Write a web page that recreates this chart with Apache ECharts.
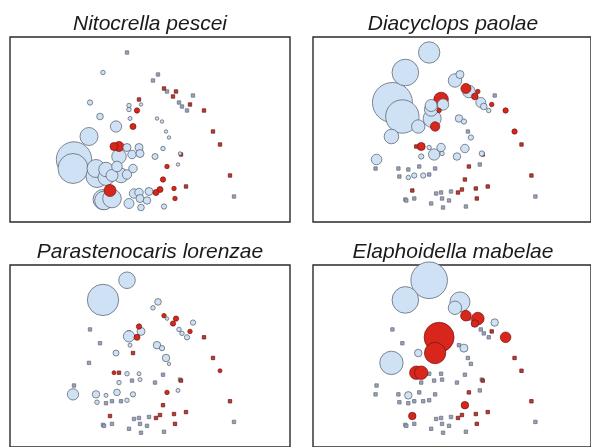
<!DOCTYPE html>
<html><head><meta charset="utf-8">
<script src="https://cdn.jsdelivr.net/npm/echarts@6/dist/echarts.min.js"></script>
<style>html,body{margin:0;padding:0;background:#fff}#c{width:591px;height:447px}</style>
</head><body><div id="c"></div>
<script>
// Ordination scores of the sampling sites (shared by all four panels)
const siteX = [
  -0.23,-0.47,-0.60,-0.50,-0.34,-0.61,-0.20,-0.21,-0.21,-0.09,
   0.08, 0.03, 0.17, 0.29, 0.32, 0.37, 0.43, 0.07, 0.12, 0.16,
   0.19, 0.13, 0.05, 0.30, 0.28,-0.11,-0.18,-0.10,-0.23,-0.31,
  -0.76,-0.77,-0.54,-0.44,-0.33,-0.17,-0.53,-0.44,-0.38,-0.29,
  -0.23,-0.16,-0.11,-0.01,-0.10,-0.03,-0.47,-0.46,-0.38,-0.21,
  -0.09, 0.14, 0.84,
  -0.11,-0.13,-0.17, 0.14, 0.26, 0.23, 0.40, 0.54, 0.63, 0.70,
  -0.36,-0.31, 0.17, 0.13, 0.36, 0.24, 0.10, 0.06,-0.40, 0.25,
   0.80, 0.31
];
const siteY = [
   0.77, 0.57, 0.27, 0.13, 0.03,-0.07, 0.11, 0.20, 0.24, 0.25,
   0.55, 0.49, 0.38, 0.27, 0.23, 0.19, 0.34, 0.11, 0.08,-0.02,
  -0.08,-0.19,-0.27,-0.24,-0.35,-0.18,-0.25,-0.24,-0.18,-0.27,
  -0.30,-0.39,-0.39,-0.40,-0.37,-0.39,-0.47,-0.48,-0.46,-0.46,
  -0.45,-0.64,-0.63,-0.62,-0.69,-0.71,-0.70,-0.71,-0.69,-0.74,
  -0.78,-0.77,-0.67,
   0.30, 0.19, 0.03, 0.41, 0.38, 0.33, 0.25, 0.19,-0.02,-0.15,
  -0.17,-0.17,-0.37,-0.50,-0.57,-0.59,-0.60,-0.63,-0.61,-0.69,
  -0.46,-0.25
];
const siteGroup = [
  'A','A','A','A','A','A','A','A','A','A',
  'A','A','A','A','A','A','A','A','A','A',
  'A','A','A','A','A','A','A','A','A','A',
  'A','A','A','A','A','A','A','A','A','A',
  'A','A','A','A','A','A','A','A','A','A',
  'A','A','A',
  'B','B','B','B','B','B','B','B','B','B',
  'B','B','B','B','B','B','B','B','B','B',
  'B','B'
];
const species = ['Nitocrella pescei','Diacyclops paolae','Parastenocaris lorenzae','Elaphoidella mabelae'];
// Abundances per site
const abundNitocrella = [
  0,5,7,11,32,81,4,5,5,3, 0,0,0,0,0,0,0,3,3,3, 3,5,9,3,3,16,18,16,16,53,
  313,225,81,53,28,18,121,64,36,53, 22,22,18,16,16,14,100,87,87,25, 11,7,0,
  0,7,9,0,0,0,0,0,0,0, 16,25,5,7,0,5,9,9,36,5, 0,0
];
const abundDiacyclops = [
  114,177,400,279,45,53,81,45,36,32, 16,45,40,25,11,5,0,14,7,0, 7,18,14,7,0,18,32,5,5,7,
  28,0,0,0,0,0,0,5,7,7, 0,0,0,0,0,0,0,0,0,0, 0,0,0,
  53,5,22,25,5,11,5,7,7,0, 0,16,0,0,0,0,0,0,0,0, 0,0
];
const abundParastenocaris = [
  69,246,0,0,9,0,4,32,0,16, 11,5,3,5,5,7,7,14,7,14, 3,0,0,0,4,4,0,4,5,5,
  0,32,14,4,11,7,5,0,0,0, 5,0,0,0,0,0,0,0,0,0, 0,0,0,
  7,9,0,5,7,7,5,0,0,4, 4,0,5,0,0,0,0,0,0,0, 0,0
];
const abundElaphoidella = [
  335,177,0,0,14,137,0,0,0,0, 100,45,0,0,0,0,14,0,16,0, 0,0,0,0,0,0,0,0,0,0,
  0,0,0,14,0,0,0,0,0,0, 0,0,0,0,0,0,0,0,0,0, 0,0,0,
  0,225,114,28,40,14,0,28,0,0, 45,45,0,14,0,0,0,0,14,0, 0,0
];
const abund = [abundNitocrella, abundDiacyclops, abundParastenocaris, abundElaphoidella];

const W = 280, H = 185;
const panels = [{left:10, top:37},{left:313, top:37},{left:10, top:265},{left:313, top:265}];
const style = {
  A: {fill:'#cfe1f5', stroke:'#4f5966', xFill:'#9aa3b6', xStroke:'#6c7487'},
  B: {fill:'#d9261c', stroke:'#6e1610', xFill:'#b0423c', xStroke:'#7a1a15'}
};
const grid=[], xAxis=[], yAxis=[], series=[], title=[];
panels.forEach((p,i)=>{
  grid.push({left:p.left, top:p.top, width:W, height:H, show:true, borderColor:'#2a2a2a', borderWidth:1.4, backgroundColor:'#fff'});
  xAxis.push({gridIndex:i, type:'value', min:-1.40, max:1.40, show:false});
  yAxis.push({gridIndex:i, type:'value', min:-0.925, max:0.925, show:false});
  title.push({text:species[i], left:p.left+W/2, top:p.top-23, textAlign:'center', padding:0,
    textStyle:{fontFamily:'Liberation Sans, Arial, sans-serif', fontStyle:'italic', fontWeight:'normal', fontSize:21, color:'#1a1a1a'}});
  const absent=[], present=[];
  siteX.forEach((x,k)=>{
    const g = style[siteGroup[k]];
    const a = abund[i][k];
    if (a === 0) {
      absent.push({value:[x, siteY[k]], itemStyle:{color:g.xFill, borderColor:g.xStroke, borderWidth:0.8, opacity:1}});
    } else {
      present.push({value:[x, siteY[k], a], itemStyle:{color:g.fill, borderColor:g.stroke, borderWidth:0.7, opacity:1}});
    }
  });
  present.sort((u,v)=>v.value[2]-u.value[2]);
  series.push({type:'scatter', xAxisIndex:i, yAxisIndex:i, symbol:'rect', symbolSize:3.4, data:absent, silent:true, z:2,
    itemStyle:{opacity:1}});
  series.push({type:'scatter', xAxisIndex:i, yAxisIndex:i, symbol:'circle',
    symbolSize:(v)=>2*Math.sqrt(v[2]), data:present, silent:true, z:3, itemStyle:{opacity:1}});
});
const chart = echarts.init(document.getElementById('c'), null, {renderer:'canvas'});
chart.setOption({animation:false, title, grid, xAxis, yAxis, series});
</script>
</body></html>
